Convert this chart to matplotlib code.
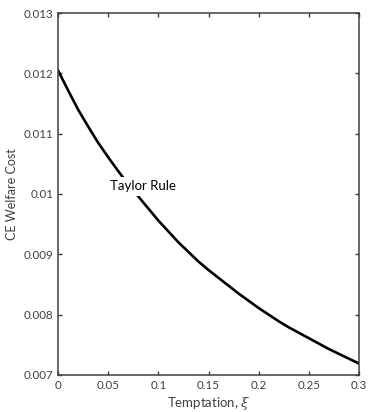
import matplotlib
matplotlib.use("Agg")
import matplotlib.pyplot as plt

plt.rcParams['font.family'] = ['Lato', 'DejaVu Sans']
plt.rcParams['mathtext.fontset'] = 'dejavuserif'

temptation = [0.00, 0.01, 0.02, 0.03, 0.04, 0.05, 0.06, 0.07, 0.08, 0.09,
              0.10, 0.11, 0.12, 0.13, 0.14, 0.15, 0.16, 0.17, 0.18, 0.19,
              0.20, 0.21, 0.22, 0.23, 0.24, 0.25, 0.26, 0.27, 0.28, 0.29, 0.30]
welfare_cost = [0.01205, 0.01172, 0.01140, 0.01112, 0.01085, 0.01061, 0.01038,
                0.01016, 0.00996, 0.00976, 0.00956, 0.00938, 0.00920, 0.00904,
                0.00888, 0.00874, 0.00861, 0.00848, 0.00835, 0.00823, 0.00811,
                0.00800, 0.00789, 0.00779, 0.00770, 0.00761, 0.00752, 0.00743,
                0.00735, 0.00727, 0.00719]
xticks = [0, 0.05, 0.1, 0.15, 0.2, 0.25, 0.3]
xticklabels = ['0', '0.05', '0.1', '0.15', '0.2', '0.25', '0.3']
yticks = [0.007, 0.008, 0.009, 0.010, 0.011, 0.012, 0.013]
yticklabels = ['0.007', '0.008', '0.009', '0.01', '0.011', '0.012', '0.013']
label_text = 'Taylor Rule'
label_pos = (0.085, 0.01013)

fig = plt.figure(figsize=(3.68, 4.12), dpi=100)
ax = fig.add_axes([58/368, 37/412, 301/368, 362/412])
ax.plot(temptation, welfare_cost, color='black', linewidth=1.9, zorder=2,
        solid_joinstyle='round')
ax.text(label_pos[0], label_pos[1], label_text, fontsize=9.5, ha='center', va='center',
        color='black', zorder=3,
        bbox=dict(facecolor='white', edgecolor='none', pad=2.5))
ax.set_xlim(0, 0.3)
ax.set_ylim(0.007, 0.013)
ax.set_xticks(xticks)
ax.set_xticklabels(xticklabels)
ax.set_yticks(yticks)
ax.set_yticklabels(yticklabels)
gray = '#404040'
ax.tick_params(direction='in', top=True, right=True, length=3, width=1,
               colors=gray, labelsize=8.3, labelcolor=gray)
for s in ax.spines.values():
    s.set_color(gray)
    s.set_linewidth(1.1)
ax.set_xlabel(r'Temptation, $\xi$', fontsize=9.5, color=gray, labelpad=3)
ax.set_ylabel('CE Welfare Cost', fontsize=9, color=gray, labelpad=4)
fig.savefig('out.png', dpi=100)
